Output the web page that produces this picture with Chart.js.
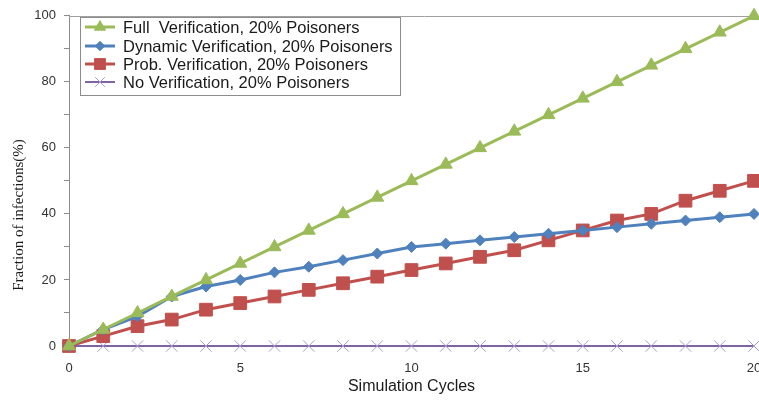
<!DOCTYPE html>
<html>
<head>
<meta charset="utf-8">
<script src="https://cdn.jsdelivr.net/npm/chart.js@4/dist/chart.umd.min.js"></script>
<style>
  html, body { margin: 0; padding: 0; background: #fff; overflow: hidden; }
  #wrap { position: relative; width: 780px; height: 400px; }
</style>
</head>
<body>
<div id="wrap"><canvas id="c"></canvas></div>
<script>
// Simulation cycles on the x axis
const cycles = [0,1,2,3,4,5,6,7,8,9,10,11,12,13,14,15,16,17,18,19,20];

// Fraction of infected nodes (%) per verification scheme
const fullVerification    = [0,5,10,15,20,25,30,35,40,45,50,55,60,65,70,75,80,85,90,95,100];
const dynamicVerification = [0,5,9,15,18,20,22.3,24,26,28,30,31,32,33,34,35,36,37,38,39,40];
const probVerification    = [0,3,6,8,11,13,15,17,19,21,23,25,27,29,32,35,38,40,44,47,50];
const noVerification      = [0,0,0,0,0,0,0,0,0,0,0,0,0,0,0,0,0,0,0,0,0];

const seriesLabels = [
  'Full  Verification, 20% Poisoners',
  'Dynamic Verification, 20% Poisoners',
  'Prob. Verification, 20% Poisoners',
  'No Verification, 20% Poisoners'
];

const yTicks = [0, 20, 40, 60, 80, 100];
const xTicks = [0, 5, 10, 15, 20];
const yTitle = 'Fraction of infections(%)';

const toPoints = vals => cycles.map((c, i) => ({ x: c, y: vals[i] }));

function series(label, vals, color, style, radius, lineW, markerColor, markerBorder) {
  return {
    label,
    data: toPoints(vals),
    borderColor: color,
    backgroundColor: markerColor || color,
    pointBackgroundColor: markerColor || color,
    pointBorderColor: markerColor || color,
    pointBorderWidth: markerBorder || 1,
    borderWidth: lineW,
    pointStyle: style,
    pointRadius: radius,
    pointHoverRadius: radius,
    tension: 0,
    clip: false
  };
}

// Boxed legend inside the plot, each entry a line sample with its marker
const boxLegend = {
  id: 'boxLegend',
  afterDatasetsDraw(chart) {
    const ctx = chart.ctx;
    const x0 = 80, y0 = 17, w = 320, h = 78;
    ctx.save();
    ctx.fillStyle = '#ffffff';
    ctx.fillRect(x0, y0, w, h);
    ctx.strokeStyle = '#8c8c8c';
    ctx.lineWidth = 1;
    ctx.strokeRect(x0 + 0.5, y0 + 0.5, w, h);
    const rows = [27, 46, 64, 82];
    chart.data.datasets.forEach((ds, i) => {
      const y = rows[i];
      ctx.strokeStyle = ds.borderColor;
      ctx.lineWidth = ds.borderWidth;
      ctx.beginPath();
      ctx.moveTo(85, y);
      ctx.lineTo(115, y);
      ctx.stroke();
      ctx.fillStyle = ds.pointBackgroundColor;
      ctx.strokeStyle = ds.pointBorderColor;
      ctx.lineWidth = ds.pointBorderWidth;
      Chart.helpers.drawPoint(ctx, {
        pointStyle: ds.pointStyle,
        radius: ds.pointRadius * 0.85,
        rotation: 0,
        borderWidth: ds.pointBorderWidth
      }, 100, y);
      ctx.fillStyle = '#1a1a1a';
      ctx.font = '16.5px "Liberation Sans", Arial, sans-serif';
      ctx.textBaseline = 'middle';
      ctx.textAlign = 'left';
      ctx.fillText(ds.label, 123, y + 1);
    });
    ctx.restore();
  }
};

// Thin frame line along the top of the plot area, plus the rotated y title
const frameAndTitle = {
  id: 'frameAndTitle',
  beforeDatasetsDraw(chart) {
    const { ctx, chartArea } = chart;
    ctx.save();
    ctx.strokeStyle = '#a0a0a0';
    ctx.lineWidth = 1;
    ctx.beginPath();
    ctx.moveTo(chartArea.left, Math.round(chartArea.top) + 0.5);
    ctx.lineTo(chart.width, Math.round(chartArea.top) + 0.5);
    ctx.stroke();

    ctx.translate(19, 215);
    ctx.rotate(-Math.PI / 2);
    ctx.fillStyle = '#1a1a1a';
    ctx.font = '15px "Liberation Serif", "Times New Roman", serif';
    ctx.textAlign = 'center';
    ctx.textBaseline = 'middle';
    ctx.fillText(yTitle, 0, 0);
    ctx.restore();
  }
};

new Chart(document.getElementById('c'), {
  type: 'line',
  data: {
    datasets: [
      series(seriesLabels[0], fullVerification,    '#9bbb59', 'triangle', 7.5, 3),
      series(seriesLabels[1], dynamicVerification, '#4f81bd', 'rectRot',  5.5, 3),
      series(seriesLabels[2], probVerification,    '#c0504d', 'rect',     9,   3),
      series(seriesLabels[3], noVerification,      '#8064a2', 'crossRot', 8,   2, '#a99bd0', 1)
    ]
  },
  options: {
    responsive: true,
    maintainAspectRatio: false,
    animation: false,
    layout: { padding: { top: 12, right: 26, left: 0, bottom: 0 } },
    plugins: {
      legend: { display: false },
      tooltip: { enabled: false }
    },
    scales: {
      x: {
        type: 'linear',
        min: 0,
        max: 20,
        afterBuildTicks(scale) { scale.ticks = xTicks.map(v => ({ value: v })); },
        grid: { display: true, drawOnChartArea: false, drawTicks: false },
        border: { display: true, color: '#8c8c8c', width: 1 },
        ticks: {
          padding: 15,
          color: '#333333',
          font: { family: '"Liberation Sans", Arial, sans-serif', size: 13 },
          maxRotation: 0
        },
        title: {
          display: true,
          text: 'Simulation Cycles',
          color: '#1a1a1a',
          font: { family: '"Liberation Sans", Arial, sans-serif', size: 16 },
          padding: { top: 2, bottom: 4 }
        },
        afterFit(scale) { scale.height = 54; }
      },
      y: {
        min: 0,
        max: 100,
        ticks: {
          stepSize: 10,
          padding: 8,
          color: '#333333',
          font: { family: '"Liberation Sans", Arial, sans-serif', size: 13 },
          callback: v => (yTicks.includes(v) ? String(v) : '')
        },
        grid: { display: true, drawOnChartArea: false, drawTicks: true, tickLength: 5, color: '#8c8c8c' },
        border: { display: true, color: '#8c8c8c', width: 1 },
        afterFit(scale) { scale.width = 69; }
      }
    }
  },
  plugins: [frameAndTitle, boxLegend]
});
</script>
</body>
</html>
